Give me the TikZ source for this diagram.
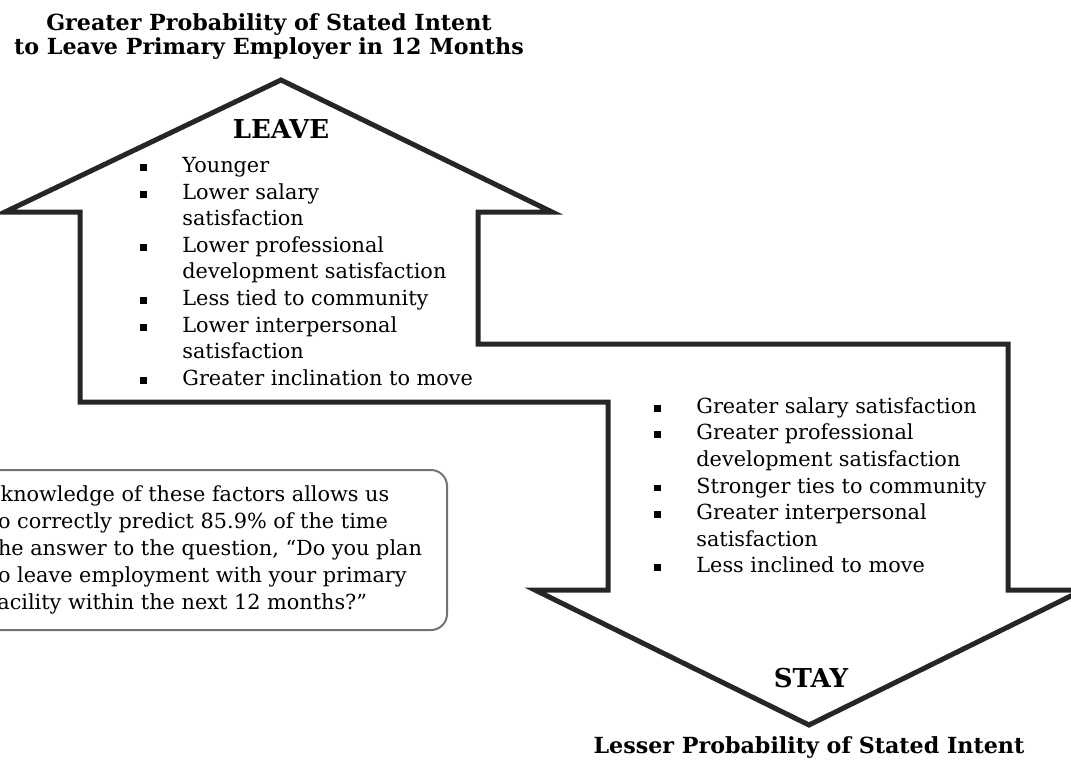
\documentclass[tikz,border=0pt]{standalone}
\usepackage{fontspec}
\setmainfont{DejaVu Serif}
\usepackage{tikz}
\usetikzlibrary{positioning}
\tikzset{
  outline/.style={draw=black!85, line width=2.5pt, line join=miter},
  caption/.style={
    align=center, inner sep=0pt,
    font=\fontsize{11.1}{12}\selectfont\bfseries
  },
  tag/.style={inner sep=0pt, font=\fontsize{13}{15}\selectfont\bfseries},
  factors/.style={
    anchor=north west, align=left, inner sep=0pt,
    font=\fontsize{10.4}{13.3}\selectfont
  },
  note/.style={
    rectangle, rounded corners=8pt, draw=black!55, line width=1pt,
    fill=white, align=left, anchor=east,
    inner xsep=12.5pt, minimum height=80pt,
    font=\fontsize{10.4}{13.4}\selectfont
  }
}
\newcommand{\itm}{\makebox[21pt][l]{\rule[0.8pt]{3.4pt}{3.4pt}}}
\newcommand{\cnt}{\hspace*{21pt}}

\begin{document}
\begin{tikzpicture}[x=0.5pt, y=-0.5pt]
  \useasboundingbox (0,0) rectangle (1071,760);
  \clip (0,0) rectangle (1071,760);

  % the two joined arrows
  \draw[outline] (281,80) -- (552,212) -- (478,212) -- (478,344)
    -- (1008,344) -- (1008,590) -- (1083,590) -- (809,725)
    -- (535,590) -- (608,590) -- (608,402) -- (80,402)
    -- (80,212) -- (5,212) -- cycle;

  \node[caption] (topcap) at (269,37)
    {Greater Probability of Stated Intent\\
     to Leave Primary Employer in 12 Months};
  \node[tag] (leavetag) at (281,129) {LEAVE};
  \node[factors] (leavelist) at (140,157)
    {\itm Younger\\
     \itm Lower salary\\
     \cnt satisfaction\\
     \itm Lower professional\\
     \cnt development satisfaction\\
     \itm Less tied to community\\
     \itm Lower interpersonal\\
     \cnt satisfaction\\
     \itm Greater inclination to move};

  \node[factors] (staylist) at (654,397)
    {\itm Greater salary satisfaction\\
     \itm Greater professional\\
     \cnt development satisfaction\\
     \itm Stronger ties to community\\
     \itm Greater interpersonal\\
     \cnt satisfaction\\
     \itm Less inclined to move};
  \node[tag] (staytag) at (811,678) {STAY};
  \node[caption] (bottomcap) at (809,748)
    {Lesser Probability of Stated Intent};

  \node[note] (notebox) at (448,550)
    {\hspace*{-18pt}Our knowledge of these factors allows us\\
     to correctly predict 85.9\% of the time\\
     the answer to the question, “Do you plan\\
     to leave employment with your primary\\
     facility within the next 12 months?”};
\end{tikzpicture}
\end{document}
